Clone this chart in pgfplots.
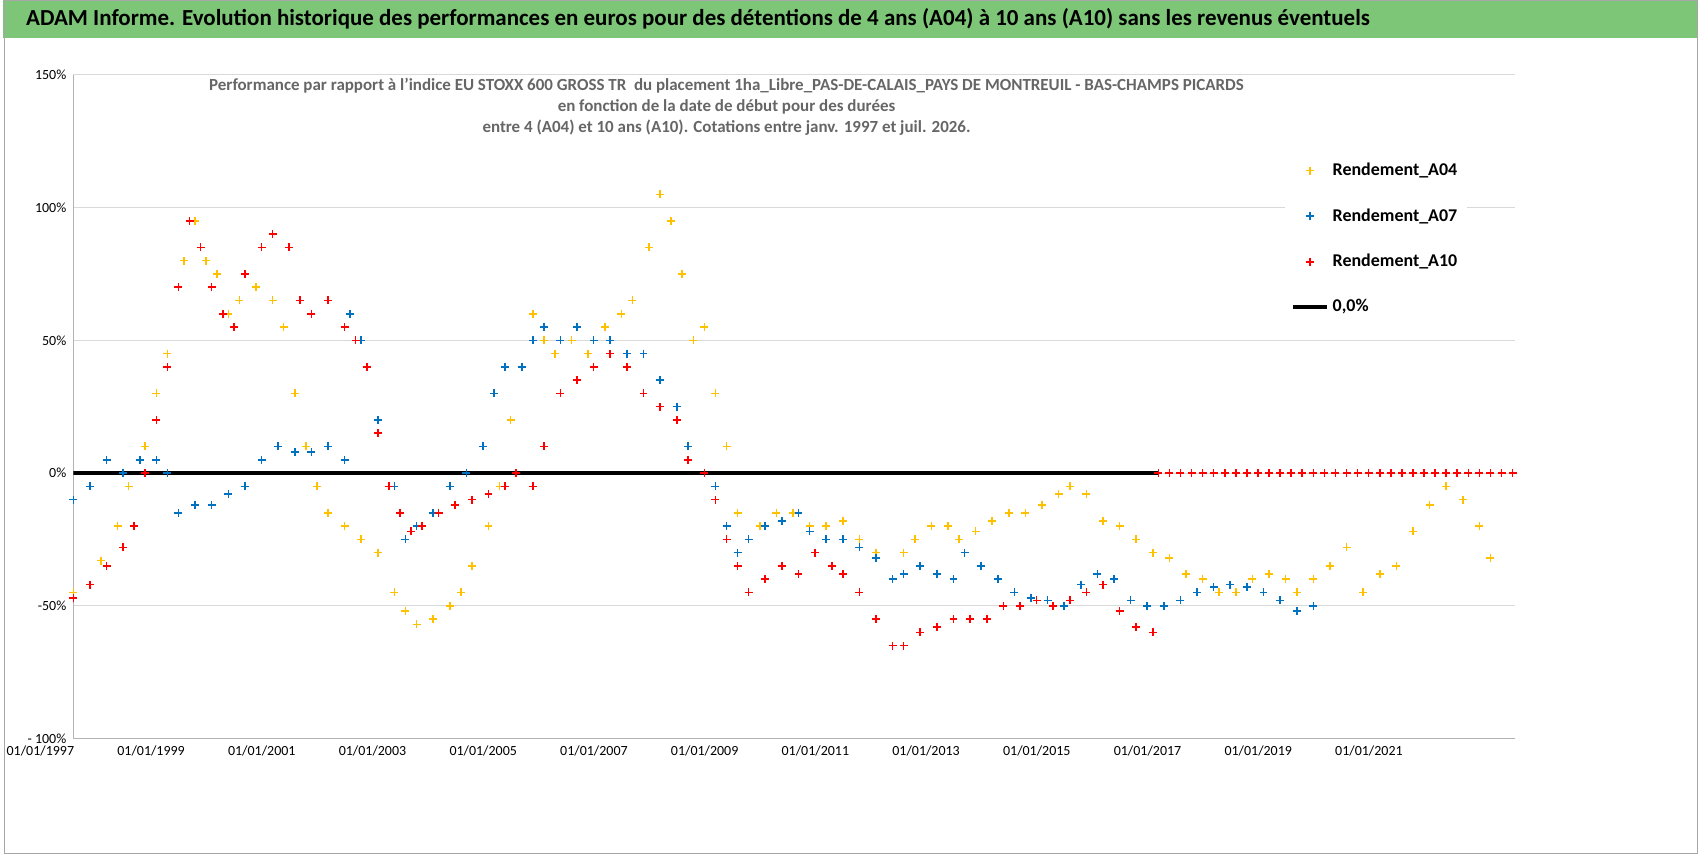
\documentclass[border=0pt]{standalone}
\usepackage{pgfplots}
\pgfplotsset{compat=1.18}
\usepackage{fontspec}
\setmainfont{Carlito}
\definecolor{cy}{RGB}{255,192,0}
\definecolor{cb}{RGB}{0,112,192}
\definecolor{cr}{RGB}{255,0,0}
\definecolor{bn}{RGB}{125,198,120}
\begin{document}
\begin{tikzpicture}
\path (0,0) rectangle (849pt,428pt);
\fill[bn] (0,409pt) rectangle (849pt,428pt);
\node[font=\bfseries\fontsize{11.5}{12}\selectfont] at (348pt,418.5pt) {ADAM Informe. Evolution historique des performances en euros pour des détentions de 4 ans (A04) à 10 ans (A10) sans les revenus éventuels};
\draw[gray!70] (0.3pt,0.3pt) rectangle (848.7pt,427.7pt);
\begin{axis}[at={(35pt,58pt)},anchor=south west,scale only axis,width=722.5pt,height=332.5pt,
 xmin=1997,xmax=2023.05,ymin=-100,ymax=150,
 axis x line*=bottom, axis y line*=left, axis line style={gray!60},
 xtick={1997,1999,...,2021},
 xticklabels={01/01/1997,01/01/1999,01/01/2001,01/01/2003,01/01/2005,01/01/2007,01/01/2009,01/01/2011,01/01/2013,01/01/2015,01/01/2017,01/01/2019,01/01/2021},
 xticklabel style={xshift=-16.5pt,font=\fontsize{7}{8}\selectfont},
 ytick={-100,-50,0,50,100,150},
 yticklabels={- 100\%,-50\%,0\%,50\%,100\%,150\%},
 yticklabel style={font=\fontsize{7}{8}\selectfont},
 tick style={draw=none},
 ymajorgrids, grid style={gray!30},
 legend style={at={(0.84,0.88)},anchor=north west,draw=none,fill=white,font=\bfseries\fontsize{9}{10}\selectfont,row sep=11pt},
 legend cell align=left,
 every axis plot/.append style={only marks,mark=+,mark size=2pt,line width=0.8pt}]
\addplot[cy] coordinates {(1997.0,-45)(1997.5,-33)(1997.8,-20)(1998.0,-5)(1998.3,10)(1998.5,30)(1998.7,45)(1999.0,80)(1999.2,95)(1999.4,80)(1999.6,75)(1999.8,60)(2000.0,65)(2000.3,70)(2000.6,65)(2000.8,55)(2001.0,30)(2001.2,10)(2001.4,-5)(2001.6,-15)(2001.9,-20)(2002.2,-25)(2002.5,-30)(2002.8,-45)(2003.0,-52)(2003.2,-57)(2003.5,-55)(2003.8,-50)(2004.0,-45)(2004.2,-35)(2004.5,-20)(2004.7,-5)(2004.9,20)(2005.1,40)(2005.3,60)(2005.5,50)(2005.7,45)(2006.0,50)(2006.3,45)(2006.6,55)(2006.9,60)(2007.1,65)(2007.4,85)(2007.6,105)(2007.8,95)(2008.0,75)(2008.2,50)(2008.4,55)(2008.6,30)(2008.8,10)(2009.0,-15)(2009.2,-25)(2009.4,-20)(2009.7,-15)(2010.0,-15)(2010.3,-20)(2010.6,-20)(2010.9,-18)(2011.2,-25)(2011.5,-30)(2011.8,-40)(2012.0,-30)(2012.2,-25)(2012.5,-20)(2012.8,-20)(2013.0,-25)(2013.3,-22)(2013.6,-18)(2013.9,-15)(2014.2,-15)(2014.5,-12)(2014.8,-8)(2015.0,-5)(2015.3,-8)(2015.6,-18)(2015.9,-20)(2016.2,-25)(2016.5,-30)(2016.8,-32)(2017.1,-38)(2017.4,-40)(2017.7,-45)(2018.0,-45)(2018.3,-40)(2018.6,-38)(2018.9,-40)(2019.1,-45)(2019.4,-40)(2019.7,-35)(2020.0,-28)(2020.3,-45)(2020.6,-38)(2020.9,-35)(2021.2,-22)(2021.5,-12)(2021.8,-5)(2022.1,-10)(2022.4,-20)(2022.6,-32)};
\addlegendentry{Rendement\_A04}
\addplot[cb] coordinates {(1997.0,-10)(1997.3,-5)(1997.6,5)(1997.9,0)(1998.2,5)(1998.5,5)(1998.7,0)(1998.9,-15)(1999.2,-12)(1999.5,-12)(1999.8,-8)(2000.1,-5)(2000.4,5)(2000.7,10)(2001.0,8)(2001.3,8)(2001.6,10)(2001.9,5)(2002.0,60)(2002.2,50)(2002.5,20)(2002.8,-5)(2003.0,-25)(2003.2,-20)(2003.5,-15)(2003.8,-5)(2004.1,0)(2004.4,10)(2004.6,30)(2004.8,40)(2005.1,40)(2005.3,50)(2005.5,55)(2005.8,50)(2006.1,55)(2006.4,50)(2006.7,50)(2007.0,45)(2007.3,45)(2007.6,35)(2007.9,25)(2008.1,10)(2008.4,0)(2008.6,-5)(2008.8,-20)(2009.0,-30)(2009.2,-25)(2009.5,-20)(2009.8,-18)(2010.1,-15)(2010.3,-22)(2010.6,-25)(2010.9,-25)(2011.2,-28)(2011.5,-32)(2011.8,-40)(2012.0,-38)(2012.3,-35)(2012.6,-38)(2012.9,-40)(2013.1,-30)(2013.4,-35)(2013.7,-40)(2014.0,-45)(2014.3,-47)(2014.6,-48)(2014.9,-50)(2015.2,-42)(2015.5,-38)(2015.8,-40)(2016.1,-48)(2016.4,-50)(2016.7,-50)(2017.0,-48)(2017.3,-45)(2017.6,-43)(2017.9,-42)(2018.2,-43)(2018.5,-45)(2018.8,-48)(2019.1,-52)(2019.4,-50)};
\addlegendentry{Rendement\_A07}
\addplot[cr] coordinates {(1997.0,-47)(1997.3,-42)(1997.6,-35)(1997.9,-28)(1998.1,-20)(1998.3,0)(1998.5,20)(1998.7,40)(1998.9,70)(1999.1,95)(1999.3,85)(1999.5,70)(1999.7,60)(1999.9,55)(2000.1,75)(2000.4,85)(2000.6,90)(2000.9,85)(2001.1,65)(2001.3,60)(2001.6,65)(2001.9,55)(2002.1,50)(2002.3,40)(2002.5,15)(2002.7,-5)(2002.9,-15)(2003.1,-22)(2003.3,-20)(2003.6,-15)(2003.9,-12)(2004.2,-10)(2004.5,-8)(2004.8,-5)(2005.0,0)(2005.3,-5)(2005.5,10)(2005.8,30)(2006.1,35)(2006.4,40)(2006.7,45)(2007.0,40)(2007.3,30)(2007.6,25)(2007.9,20)(2008.1,5)(2008.4,0)(2008.6,-10)(2008.8,-25)(2009.0,-35)(2009.2,-45)(2009.5,-40)(2009.8,-35)(2010.1,-38)(2010.4,-30)(2010.7,-35)(2010.9,-38)(2011.2,-45)(2011.5,-55)(2011.8,-65)(2012.0,-65)(2012.3,-60)(2012.6,-58)(2012.9,-55)(2013.2,-55)(2013.5,-55)(2013.8,-50)(2014.1,-50)(2014.4,-48)(2014.7,-50)(2015.0,-48)(2015.3,-45)(2015.6,-42)(2015.9,-52)(2016.2,-58)(2016.5,-60)
(2016.6,0)(2016.8,0)(2017.0,0)(2017.2,0)(2017.4,0)(2017.6,0)(2017.8,0)(2018.0,0)(2018.2,0)(2018.4,0)(2018.6,0)(2018.8,0)(2019.0,0)(2019.2,0)(2019.4,0)(2019.6,0)(2019.8,0)(2020.0,0)(2020.2,0)(2020.4,0)(2020.6,0)(2020.8,0)(2021.0,0)(2021.2,0)(2021.4,0)(2021.6,0)(2021.8,0)(2022.0,0)(2022.2,0)(2022.4,0)(2022.6,0)(2022.8,0)(2023.0,0)};
\addlegendentry{Rendement\_A10}
\addplot[black,line width=1.8pt,no marks,sharp plot] coordinates {(1997,0)(2016.6,0)};
\addlegendentry{0,0\%}
\node[align=center,text=gray!80!black,font=\bfseries\fontsize{8.5}{10.5}\selectfont] at (axis cs:2008.8,138) {Performance par rapport à l'indice EU STOXX 600 GROSS TR\ \ du placement 1ha\_Libre\_PAS-DE-CALAIS\_PAYS DE MONTREUIL - BAS-CHAMPS PICARDS\\en fonction de la date de début pour des durées\\entre 4 (A04) et 10 ans (A10). Cotations entre janv. 1997 et juil. 2026.};
\end{axis}
\end{tikzpicture}
\end{document}
